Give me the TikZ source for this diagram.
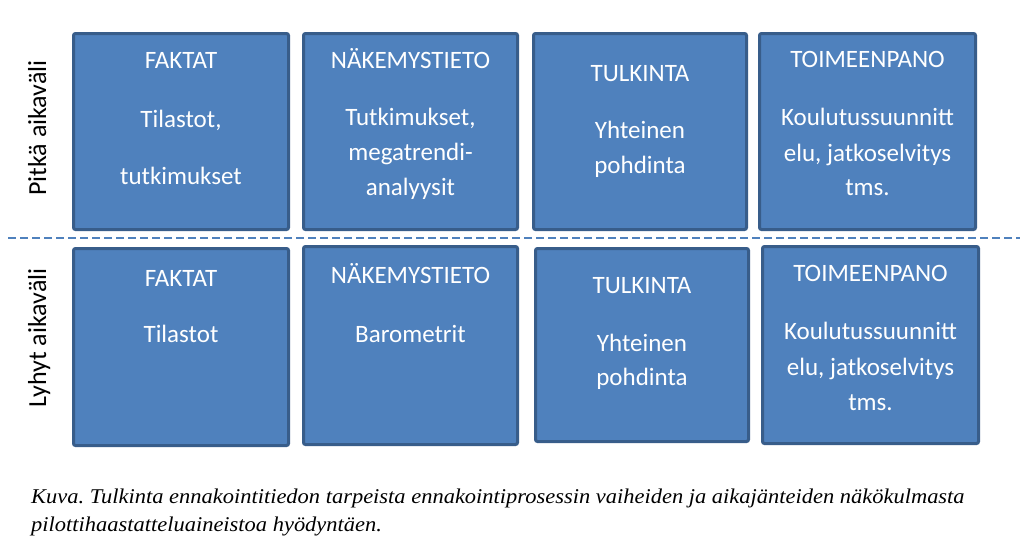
\documentclass[tikz,border=0pt]{standalone}
\usepackage{fontspec}
\setmainfont{Carlito}
\newfontfamily\capfont{Liberation Serif}
\definecolor{boxfill}{HTML}{4F81BD}
\definecolor{boxborder}{HTML}{385D8A}
\frenchspacing
\begin{document}
\begin{tikzpicture}[x=1pt,y=-1pt,
  box/.style={draw=boxborder, fill=boxfill, line width=3pt, rounded corners=2pt, inner sep=0pt, rectangle},
  txt/.style={text=white, font=\fontsize{25}{29}\selectfont, anchor=base, inner sep=0pt},
  side/.style={text=black, font=\fontsize{26}{30}\selectfont, rotate=90, anchor=base, inner sep=0pt},
  captxt/.style={text=black, font=\capfont\itshape\fontsize{21}{26}\selectfont, anchor=base west, inner sep=0pt},
  dashline/.style={draw=boxfill, line width=1.8pt, dash pattern=on 8pt off 4pt}]
\useasboundingbox[fill=white] (0,0) rectangle (1024,552);

% boxes row 1
\node[box, minimum width=215pt, minimum height=196pt] (b11) at (181,131.5) {};
\node[box, minimum width=214pt, minimum height=196pt] (b12) at (410.5,131.5) {};
\node[box, minimum width=213pt, minimum height=196pt] (b13) at (640,131.5) {};
\node[box, minimum width=216pt, minimum height=196pt] (b14) at (867.5,131.5) {};
% boxes row 2
\node[box, minimum width=215pt, minimum height=197pt] (b21) at (181,347) {};
\node[box, minimum width=214pt, minimum height=198pt] (b22) at (410.5,345.5) {};
\node[box, minimum width=213pt, minimum height=193pt] (b23) at (642,345) {};
\node[box, minimum width=216pt, minimum height=197pt] (b24) at (870.5,345) {};

% dashed separator
\coordinate (dl) at (8,238);
\coordinate (dr) at (1020,238);
\draw[dashline] (dl) -- (dr);

% texts row 1
\node[txt] (t11a) at (181,68) {FAKTAT};
\node[txt] (t11b) at (181,127) {Tilastot,};
\node[txt] (t11c) at (181,184) {tutkimukset};
\node[txt] (t12a) at (410.5,68) {NÄKEMYSTIETO};
\node[txt] (t12b) at (410.5,125) {Tutkimukset,};
\node[txt] (t12c) at (410.5,160) {megatrendi-};
\node[txt] (t12d) at (410.5,195) {analyysit};
\node[txt] (t13a) at (640,81) {TULKINTA};
\node[txt] (t13b) at (640,138) {Yhteinen};
\node[txt] (t13c) at (640,173) {pohdinta};
\node[txt] (t14a) at (867.5,67) {TOIMEENPANO};
\node[txt] (t14b) at (867.5,125) {Koulutussuunnitt};
\node[txt] (t14c) at (867.5,161) {elu, jatkoselvitys};
\node[txt] (t14d) at (867.5,195) {tms.};
% texts row 2
\node[txt] (t21a) at (181,286) {FAKTAT};
\node[txt] (t21b) at (181,342) {Tilastot};
\node[txt] (t22a) at (410.5,283) {NÄKEMYSTIETO};
\node[txt] (t22b) at (410.5,342) {Barometrit};
\node[txt] (t23a) at (642,293) {TULKINTA};
\node[txt] (t23b) at (642,351) {Yhteinen};
\node[txt] (t23c) at (642,385) {pohdinta};
\node[txt] (t24a) at (870.5,281) {TOIMEENPANO};
\node[txt] (t24b) at (870.5,339) {Koulutussuunnitt};
\node[txt] (t24c) at (870.5,375) {elu, jatkoselvitys};
\node[txt] (t24d) at (870.5,410) {tms.};

% side labels
\node[side] (s1) at (46,128) {Pitkä aikaväli};
\node[side] (s2) at (46,338) {Lyhyt aikaväli};

% caption
\node[captxt] (c1) at (31,503) {\scalebox{1.07}[1]{Kuva. Tulkinta ennakointitiedon tarpeista ennakointiprosessin vaiheiden ja aikajänteiden näkökulmasta}};
\node[captxt] (c2) at (31,531) {\scalebox{1.07}[1]{pilottihaastatteluaineistoa hyödyntäen.}};
\end{tikzpicture}
\end{document}
